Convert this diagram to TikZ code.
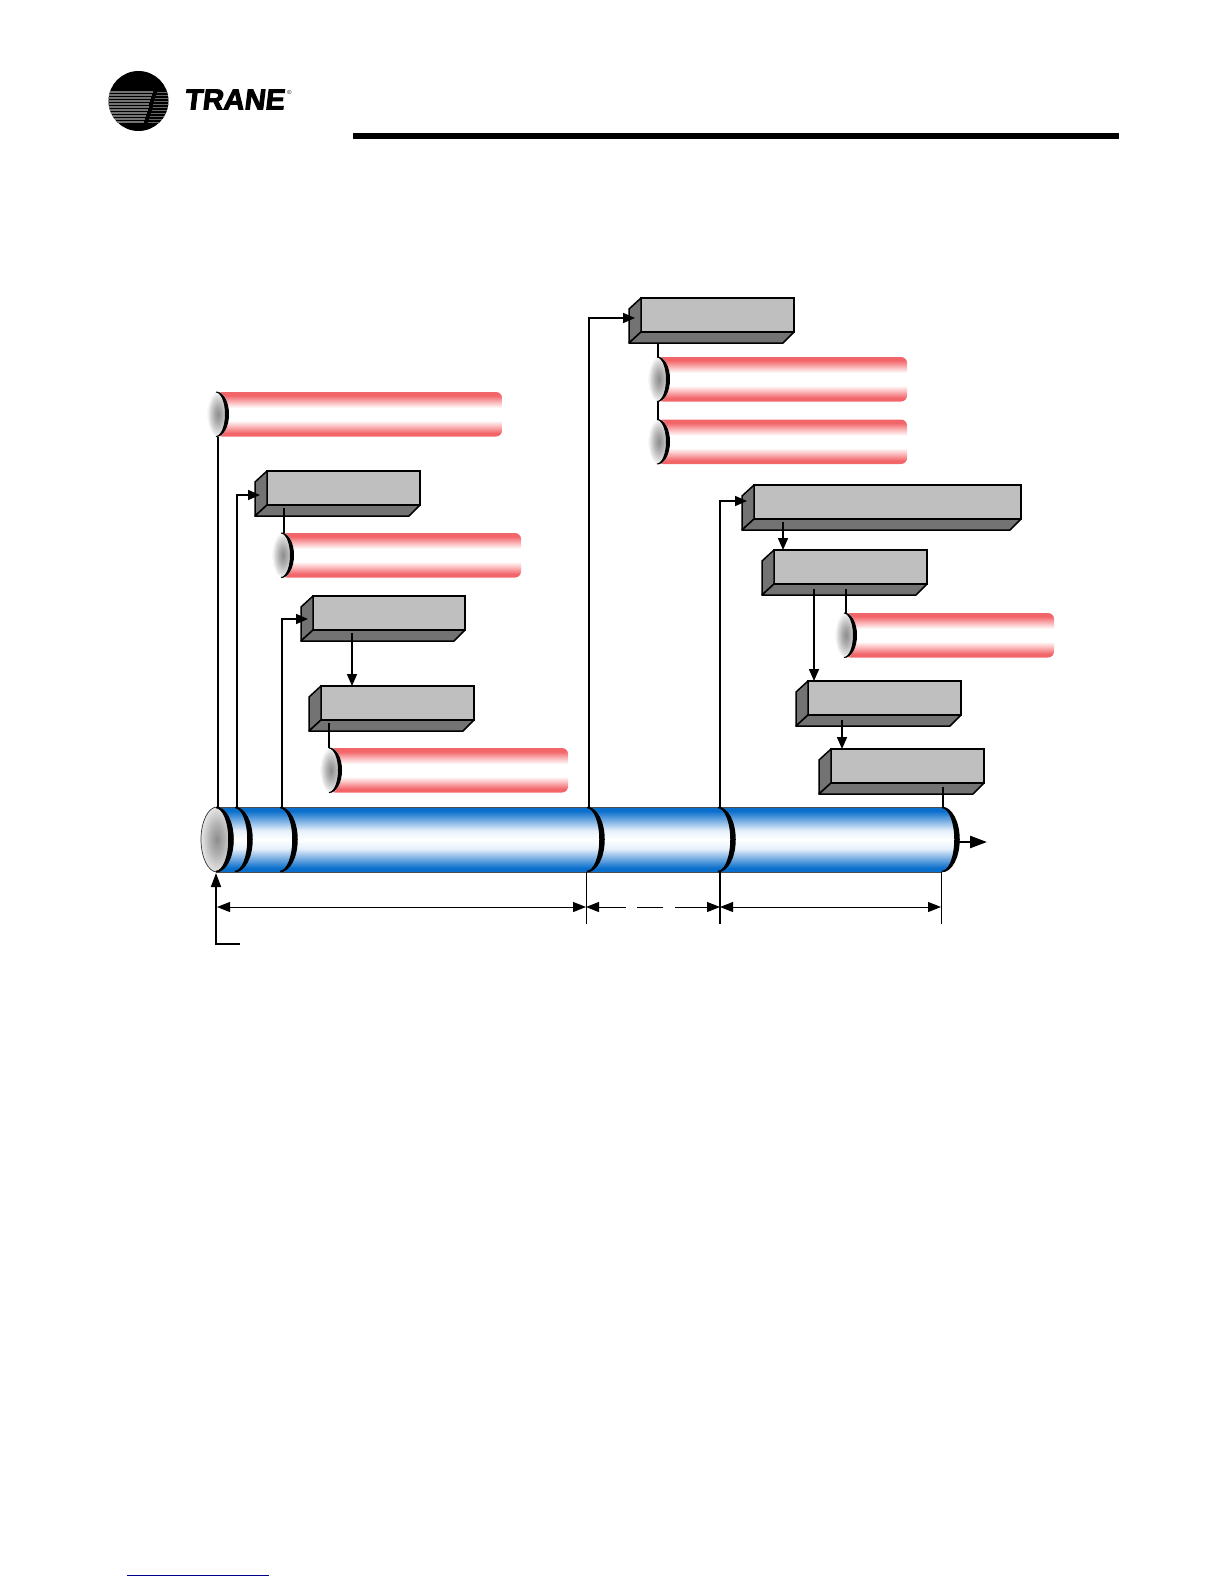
\documentclass[tikz,border=0pt]{standalone}
\usepackage{fontspec}
\usepackage{xcolor}
\usepackage{tikz}
\usetikzlibrary{positioning, arrows.meta, calc, shapes.geometric}
\newfontfamily\logofont[FakeBold=3.2,FakeSlant=0.12]{Liberation Sans}
\definecolor{boxfront}{HTML}{BFBFBF}
\definecolor{boxside}{HTML}{737373}
\definecolor{tuberedE}{HTML}{F2666A}
\definecolor{tuberedM}{HTML}{FAB4B6}
\definecolor{tubeblueE}{HTML}{0A6FCC}
\definecolor{tubeblueM}{HTML}{7FB2E4}
\definecolor{tubeblueL}{HTML}{E6F0FA}
\definecolor{footlink}{HTML}{00008B}
\pgfdeclareverticalshading{redtube}{100bp}{color(0bp)=(tuberedE); color(25bp)=(tuberedE); color(29bp)=(tuberedE); color(36bp)=(tuberedM); color(43bp)=(white); color(57bp)=(white); color(64bp)=(tuberedM); color(71bp)=(tuberedE); color(75bp)=(tuberedE); color(100bp)=(tuberedE)}
\pgfdeclareverticalshading{bluetube}{100bp}{color(0bp)=(tubeblueE); color(25bp)=(tubeblueE); color(28bp)=(tubeblueE); color(36bp)=(tubeblueM); color(43bp)=(tubeblueL); color(50bp)=(white); color(57bp)=(tubeblueL); color(64bp)=(tubeblueM); color(72bp)=(tubeblueE); color(75bp)=(tubeblueE); color(100bp)=(tubeblueE)}
\pgfdeclareradialshading{capface}{\pgfpoint{0bp}{0bp}}{color(0bp)=(black!45); color(10bp)=(black!32); color(20bp)=(black!14); color(25bp)=(black!3); color(50bp)=(black!3)}
\pgfdeclareradialshading{mainshade}{\pgfpoint{0bp}{0bp}}{color(0bp)=(black!45); color(12bp)=(black!30); color(25bp)=(black!10); color(50bp)=(black!10)}
\tikzset{
  frontbox/.style={draw=black, line width=1.5pt, fill=boxfront, anchor=north west, inner sep=0pt, outer sep=0pt, minimum height=34pt},
  sidebox/.style={draw=black, line width=1.5pt, fill=boxside, line join=round},
  redbar/.style={shading=redtube, anchor=north west, inner sep=0pt, outer sep=0pt, minimum height=44.5pt, rounded corners=6pt},
  capnode/.style={ellipse, shading=capface, inner sep=0pt, outer sep=0pt},
  crescent/.style={fill=black, draw=black, line width=1.5pt},
  link/.style={line width=1.6pt, draw=black},
  linktip/.style={link, -{Triangle[length=12pt,width=10pt]}},
  dimline/.style={line width=1pt, draw=black, {Triangle[length=13pt,width=10pt]}-{Triangle[length=13pt,width=10pt]}},
}
\begin{document}
\begin{tikzpicture}[x=1pt, y=-1pt]
  \useasboundingbox (0,0) rectangle (1224,1584);
  % header
  \fill (353,133) rectangle (1119,139);
  \node[circle, fill=black, minimum size=60pt, inner sep=0pt] (logomark) at (138.5,101) {};
  \begin{scope}
    \clip (138.5,101) circle[radius=30pt];
    \foreach \i in {0,...,10} {
      \draw[black!55, line width=1.2pt] (105,92+\i*3) -- (153-\i*0.9,92+\i*3);
      \draw[black!60, line width=0.9pt] (157-\i*0.9,92+\i*3) -- (172,92+\i*3);
    }
  \end{scope}
  \node[anchor=west, inner sep=0pt, font=\logofont\bfseries\fontsize{29}{29}\selectfont] (logotext) at (184,99.5) {TRANE};
  \node[inner sep=0pt, font=\fontsize{6}{6}\selectfont] (logomark2) at (289.5,92) {®};
  \draw[footlink, line width=1pt] (127,1575) -- (269,1575);
  % main tube
  \path[shading=bluetube] (216,807) -- (942,807) arc[start angle=90, end angle=-90, x radius=17pt, y radius=32.5pt] -- (216,872) -- cycle;
  \draw[black!70, line width=0.7pt] (216,807) -- (942,807) (942,872) -- (216,872);
  \node[capnode, shading=mainshade, draw=black!80, line width=0.7pt, minimum width=32pt, minimum height=65pt] (mainface) at (217,839.5) {};
  \foreach \x in {216,235,280,587,718,942}
    \filldraw[crescent] (\x,807.5) arc[start angle=90, end angle=-90, x radius=17pt, y radius=32pt] arc[start angle=-90, end angle=90, x radius=13pt, y radius=32pt];
  \coordinate (bandA) at (218,807);
  \coordinate (bandB) at (237,807);
  \coordinate (bandC) at (282,807);
  \coordinate (bandD) at (589,807);
  \coordinate (bandE) at (720,807);
  \coordinate (bandF) at (943,807);
  \coordinate (tubeend) at (959,842);
  \coordinate (tubeout) at (987,842);
  % red bars
  \foreach \name/\x/\y/\w in {redA/216/392/286, redB/281/533/240, redC/657/357/250, redD/657/419.5/250, redE/329/748/239, redF/844/613/210} {
    \node[redbar, minimum width=\w pt] (\name) at (\x,\y) {};
    \node[capnode, minimum width=21pt, minimum height=44.5pt] (\name face) at ($(\name.west)+(2,0)$) {};
    \filldraw[crescent, line width=1pt] (\name.north west) arc[start angle=90, end angle=-90, x radius=12.5pt, y radius=22.25pt] arc[start angle=-90, end angle=90, x radius=9.5pt, y radius=22.25pt];
  }
  % boxes
  \foreach \name/\x/\y/\w in {boxA/267/471/153, boxB/313/596/152, boxC/321/686/153, boxD/641/298/153, boxE/754/485/267, boxF/774/550/153, boxG/808/681/153, boxH/831/749/153} {
    \node[frontbox, minimum width=\w pt] (\name) at (\x,\y) {};
    \draw[sidebox] (\name.north west) -- ++(-12,11) -- ++(0,34) -- (\name.south west) -- cycle;
    \draw[sidebox] (\name.south west) -- ++(-12,11) -- ($(\name.south east)+(-11,11)$) -- (\name.south east) -- cycle;
  }
  % connectors
  \draw[link] (bandA) -- (bandA |- redA.south);
  \coordinate (tipA) at (260,495);
  \coordinate (tipB) at (308,619);
  \coordinate (tipD) at (635,318);
  \coordinate (tipE) at (747,501);
  \draw[linktip] (bandB) |- (tipA);
  \draw[linktip] (bandC) |- (tipB);
  \draw[linktip] (bandD) |- (tipD);
  \draw[linktip] (bandE) |- (tipE);
  \coordinate (tapA) at (284,508);
  \coordinate (tapB) at (352,633);
  \coordinate (tapC) at (329,723);
  \coordinate (tapD) at (658,343);
  \coordinate (tapE) at (783,522);
  \coordinate (tapF) at (814,589);
  \coordinate (tapG) at (846,589);
  \coordinate (tapH) at (842,720);
  \coordinate (tapI) at (943,787);
  \draw[link] (tapA) -- (tapA |- redB.north);
  \draw[linktip] (tapB) -- (tapB |- boxC.north);
  \draw[link] (tapC) -- (tapC |- redE.north);
  \draw[link] (tapD) -- (tapD |- redC.north);
  \draw[link] (tapD |- redC.south) -- (tapD |- redD.north);
  \draw[linktip] (tapE) -- (tapE |- boxF.north);
  \draw[linktip] (tapF) -- (tapF |- boxG.north);
  \draw[link] (tapG) -- (tapG |- redF.north);
  \draw[linktip] (tapH) -- (tapH |- boxH.north);
  \draw[link] (tapI) -- (bandF);
  \draw[line width=2.5pt, -{Triangle[length=17pt,width=12pt]}] (tubeend) -- (tubeout);
  % dimensions
  \coordinate (feedcorner) at (216,944);
  \coordinate (feedend) at (240,944);
  \coordinate (feedtip) at (216,873);
  \draw[linktip, -{Triangle[length=14pt,width=10pt]}] (feedend) -- (feedcorner) -- (feedtip);
  \coordinate (dimA) at (217,907);
  \coordinate (dimB) at (586,907);
  \coordinate (dimC) at (720,907);
  \coordinate (dimD) at (941,907);
  \draw[line width=1pt] (586,872) -- (586,924) (941,872) -- (941,924);
  \draw[line width=1.5pt] (720,872) -- (720,924);
  \draw[dimline] (dimA) -- (dimB);
  \draw[dimline, dash pattern=on 27pt off 11pt on 26pt off 12pt on 60pt] (dimB) -- (dimC);
  \draw[dimline] (dimC) -- (dimD);
\end{tikzpicture}
\end{document}
